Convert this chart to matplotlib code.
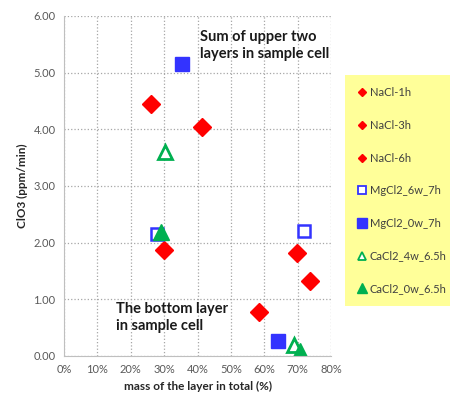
import matplotlib
matplotlib.use('Agg')
import matplotlib.pyplot as plt
from matplotlib.ticker import FuncFormatter

plt.rcParams['font.family'] = ['Lato', 'DejaVu Sans']

# (mass fraction %, ClO3 ppm/min), upper layers first, then bottom layer
nacl1_x = [26.2, 73.6]
nacl1_y = [4.45, 1.32]
nacl3_x = [29.9, 69.9]
nacl3_y = [1.87, 1.82]
nacl6_x = [41.2, 58.4]
nacl6_y = [4.04, 0.78]
mg6w_x = [27.8, 71.8]
mg6w_y = [2.15, 2.20]
mg0w_x = [35.4, 64.2]
mg0w_y = [5.15, 0.26]
ca4w_x = [30.4, 69.0]
ca4w_y = [3.60, 0.19]
ca0w_x = [29.0, 70.8]
ca0w_y = [2.19, 0.09]

red = '#FF0000'
blue = '#3333FF'
green = '#00B050'

fig = plt.figure(figsize=(4.5, 3.99), dpi=100)
ax = fig.add_axes([0.142, 0.108, 0.594, 0.852])

ax.plot(nacl1_x, nacl1_y, 'D', color=red, ms=9, ls='none', label='NaCl-1h')
ax.plot(nacl3_x, nacl3_y, 'D', color=red, ms=9, ls='none', label='NaCl-3h')
ax.plot(nacl6_x, nacl6_y, 'D', color=red, ms=9, ls='none', label='NaCl-6h')
ax.plot(mg6w_x, mg6w_y, 's', mfc='white', mec=blue, mew=1.8, ms=8.5, ls='none', label='MgCl2_6w_7h')
ax.plot(mg0w_x, mg0w_y, 's', color=blue, ms=9.5, ls='none', label='MgCl2_0w_7h')
ax.plot(ca4w_x, ca4w_y, '^', mfc='white', mec=green, mew=2, ms=10, ls='none', label='CaCl2_4w_6.5h')
ax.plot(ca0w_x, ca0w_y, '^', color=green, ms=11, ls='none', label='CaCl2_0w_6.5h')

ax.set_xlim(0, 80)
ax.set_ylim(0, 6)
ax.set_xticks(range(0, 81, 10))
ax.set_yticks(range(0, 7))
ax.xaxis.set_major_formatter(FuncFormatter(lambda v, p: f'{v:.0f}%'))
ax.yaxis.set_major_formatter(FuncFormatter(lambda v, p: f'{v:.2f}'))
ax.tick_params(length=0, labelsize=8, labelcolor='#595959', pad=6)
ax.grid(True, ls=':', color='#A6A6A6', lw=0.9)
ax.set_axisbelow(True)
for s in ['top', 'right']:
    ax.spines[s].set_visible(False)
for s in ['left', 'bottom']:
    ax.spines[s].set_color('#BFBFBF')

ax.set_xlabel('mass of the layer in total (%)', fontsize=8.5, fontweight='bold', color='#262626', labelpad=4)
ax.set_ylabel('ClO3 (ppm/min)', fontsize=8.5, fontweight='bold', color='#262626', labelpad=4)

ax.text(40.8, 5.75, 'Sum of upper two\nlayers in sample cell', fontsize=10.5, fontweight='bold',
        va='top', ha='left', linespacing=1.3, color='#1a1a1a')
ax.text(15.5, 0.95, 'The bottom layer\nin sample cell', fontsize=10.5, fontweight='bold',
        va='top', ha='left', linespacing=1.3, color='#1a1a1a')

h, l = ax.get_legend_handles_labels()
leg = fig.legend(h, l, loc='upper left', bbox_to_anchor=(0.767, 0.812), fontsize=8,
                 labelspacing=1.95, handlelength=0.8, handletextpad=0.3,
                 borderpad=1.1, borderaxespad=0, frameon=True, fancybox=False)
leg.get_frame().set_facecolor('#FFFF99')
leg.get_frame().set_edgecolor('none')
leg.get_frame().set_alpha(1)
for t in leg.get_texts():
    t.set_color('#404040')
# smaller legend markers, like the original
for hd, ms in zip(leg.legend_handles, [4.5, 4.5, 4.5, 5.5, 6.5, 5.5, 6.5]):
    hd.set_markersize(ms)
    hd.set_markeredgewidth(1.3 if hd.get_markerfacecolor() == 'white' else 1)

fig.savefig('out.png', dpi=100)
